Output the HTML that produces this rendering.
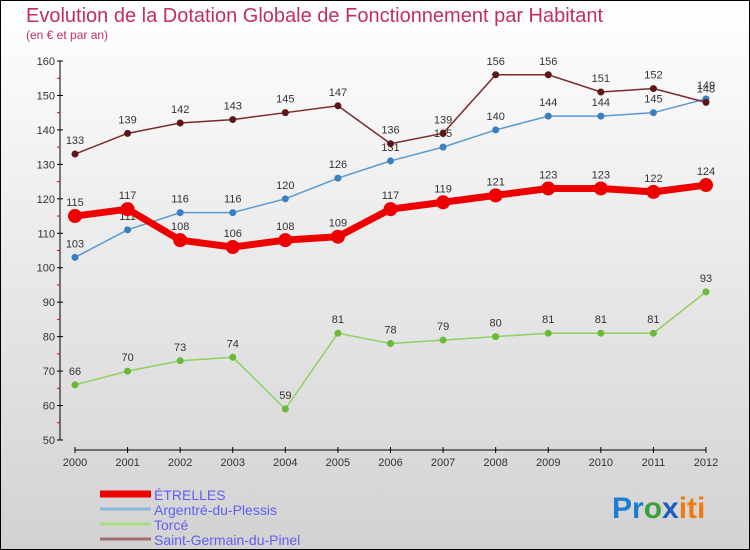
<!DOCTYPE html>
<html><head><meta charset="utf-8"><style>
body{margin:0}
#c{width:750px;height:550px;position:relative;box-sizing:border-box;border:1px solid #000;background:linear-gradient(#ffffff,#d2d2d2);font-family:"Liberation Sans",sans-serif;overflow:hidden}
</style></head><body>
<div id="c">
<svg id="s" width="750" height="550" style="position:absolute;left:-1px;top:-1px">
<text x="26" y="22" font-size="20" fill="#c0305a">Evolution de la Dotation Globale de Fonctionnement par Habitant</text>
<text x="26" y="39" font-size="12" fill="#c0305a">(en € et par an)</text>
<g id="g"></g>
<text x="612" y="518" font-size="30" font-weight="bold"><tspan fill="#1a7fd0">Pr</tspan><tspan fill="#3aa03a">o</tspan><tspan fill="#1a5fc0">x</tspan><tspan fill="#f07a10">iti</tspan></text>
</svg>
</div>
<script>
const years=[2000,2001,2002,2003,2004,2005,2006,2007,2008,2009,2010,2011,2012];
const yTicks=[50,60,70,80,90,100,110,120,130,140,150,160];
const etrelles=[115,117,108,106,108,109,117,119,121,123,123,122,124];
const argentre=[103,111,116,116,120,126,131,135,140,144,144,145,149];
const torce=[66,70,73,74,59,81,78,79,80,81,81,81,93];
const saintGermain=[133,139,142,143,145,147,136,139,156,156,151,152,148];
const NS='http://www.w3.org/2000/svg';
const g=document.getElementById('g');
function xS(i){return 75+i*(706-75)/(years.length-1);}
function yS(v){return 440-(v-50)*(440-61)/110;}
function el(t,a,p){const e=document.createElementNS(NS,t);for(const k in a)e.setAttribute(k,a[k]);(p||g).appendChild(e);return e;}
// axes
let a=el('line',{x1:60,y1:61,x2:60,y2:440,stroke:'#000'});


a=el('line',{x1:75,y1:450,x2:706,y2:450,stroke:'#000'});


yTicks.forEach(v=>{
  el('line',{x1:57,y1:yS(v),x2:63,y2:yS(v),stroke:'#000'});
  if(v<160)el('line',{x1:57,y1:yS(v+5),x2:60,y2:yS(v+5),stroke:'#e00'});
  const t=el('text',{x:55,y:yS(v)+4,'font-size':11,fill:'#333','text-anchor':'end'});
  t.textContent=v;
  
  
});
years.forEach((y,i)=>{
  el('line',{x1:xS(i),y1:447,x2:xS(i),y2:453,stroke:'#000'});
  const t=el('text',{x:xS(i),y:466,'font-size':11,fill:'#333','text-anchor':'middle'});
  t.textContent=y;
  
  
});
const series=[
 {d:torce,c:'#8fd060',dc:'#6bb83a',w:1.5,r:3.5,n:'torce'},
 {d:argentre,c:'#5a9ad0',dc:'#3a7fc0',w:1.5,r:3.5,n:'argentre'},
 {d:saintGermain,c:'#7a2a2a',dc:'#5a1818',w:1.5,r:3.5,n:'saint-germain'},
 {d:etrelles,c:'#ee0000',dc:'#ee0000',w:7,r:7,n:'etrelles'}];
series.forEach(s=>{
  const p=el('polyline',{points:s.d.map((v,i)=>xS(i)+','+yS(v)).join(' '),fill:'none',stroke:s.c,'stroke-width':s.w});
  
  
  s.d.forEach((v,i)=>{
    const c=el('circle',{cx:xS(i),cy:yS(v),r:s.r,fill:s.dc});
    
    
    const t=el('text',{x:xS(i),y:yS(v)-10,'font-size':11,fill:'#333','text-anchor':'middle'});
    t.textContent=v;
    
    
  });
});
const leg=[['ÉTRELLES','#ee0000',7],['Argentré-du-Plessis','#8ab8dc',3],['Torcé','#a8e080',3],['Saint-Germain-du-Pinel','#a07070',3]];
leg.forEach((l,i)=>{
  const y=494+i*15;
  const ln=el('line',{x1:100,y1:y,x2:151,y2:y,stroke:l[1],'stroke-width':l[2]});
  
  
  const t=el('text',{x:154,y:y+6,'font-size':14,fill:'#6060f0'});
  t.textContent=l[0];
  
  
});
</script>
</body></html>
